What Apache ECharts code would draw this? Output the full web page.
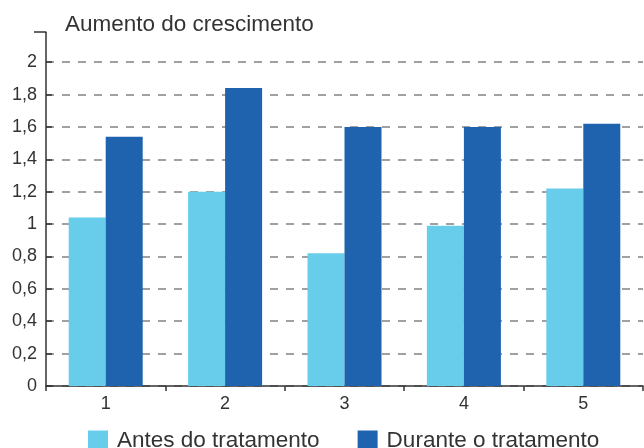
<!DOCTYPE html>
<html>
<head>
<meta charset="utf-8">
<script src="https://cdn.jsdelivr.net/npm/echarts@6/dist/echarts.min.js"></script>
<style>
  html, body { margin: 0; padding: 0; background: #fff; }
  #myChart { width: 644px; height: 448px; }
</style>
</head>
<body>
<div id="myChart"></div>
<script>
const categories = ['1', '2', '3', '4', '5'];
const antes = [1.04, 1.2, 0.82, 0.99, 1.22];
const durante = [1.54, 1.84, 1.6, 1.6, 1.62];
const yTicks = [0, 0.2, 0.4, 0.6, 0.8, 1, 1.2, 1.4, 1.6, 1.8, 2];
const yTop = 2.185;

const font = 'Liberation Sans, Arial, sans-serif';
// grid line colours, last one (top edge) hidden
const gridColors = yTicks.map(() => '#a0a0a0').concat(['transparent']);

let myChart = echarts.init(document.getElementById('myChart'));
myChart.setOption({
  backgroundColor: '#fff',
  animation: false,
  title: {
    text: 'Aumento do crescimento',
    left: 65,
    top: 13,
    padding: 0,
    textStyle: { fontFamily: font, fontSize: 22.5, fontWeight: 'normal', color: '#333' }
  },
  legend: {
    data: ['Antes do tratamento', 'Durante o tratamento'],
    left: 88,
    top: 429,
    padding: 0,
    itemWidth: 20,
    itemHeight: 20,
    itemGap: 38,
    icon: 'rect',
    textStyle: { fontFamily: font, fontSize: 22.5, color: '#333', padding: [6, 0, 0, 4] }
  },
  grid: { left: 46, right: 1, top: 386 - yTop * 161.9, bottom: 62 },
  xAxis: {
    type: 'category',
    data: categories,
    axisLine: { lineStyle: { color: '#333', width: 1.5 } },
    axisTick: { show: true, length: 5, lineStyle: { color: '#333', width: 1.5 } },
    axisLabel: { fontFamily: font, fontSize: 18, color: '#333', margin: 9 }
  },
  yAxis: [
    {
      type: 'value',
      min: 0,
      max: yTop,
      interval: 0.2,
      axisLine: { show: true, lineStyle: { color: '#333', width: 1.5 } },
      axisTick: { show: true, inside: true, length: 6, customValues: yTicks, lineStyle: { color: '#333', width: 1.5 } },
      axisLabel: {
        customValues: yTicks,
        fontFamily: font, fontSize: 18, color: '#333', margin: 9,
        formatter: v => String(+v.toFixed(1)).replace('.', ',')
      },
      splitLine: { show: true, lineStyle: { color: gridColors, type: [8, 8], width: 2 } }
    },
    {
      // top end tick of the axis
      type: 'value',
      min: 0,
      max: yTop,
      position: 'left',
      axisLine: { show: false },
      axisTick: { show: true, length: 12, customValues: [yTop], lineStyle: { color: '#333', width: 1.5 } },
      axisLabel: { show: false },
      splitLine: { show: false }
    }
  ],
  series: [
    {
      name: 'Antes do tratamento',
      type: 'bar',
      data: antes,
      barWidth: 37,
      barGap: '0%',
      itemStyle: { color: '#68cdeb' }
    },
    {
      name: 'Durante o tratamento',
      type: 'bar',
      data: durante,
      barWidth: 37,
      barGap: '0%',
      itemStyle: { color: '#1f62ae' }
    }
  ]
});
</script>
</body>
</html>
